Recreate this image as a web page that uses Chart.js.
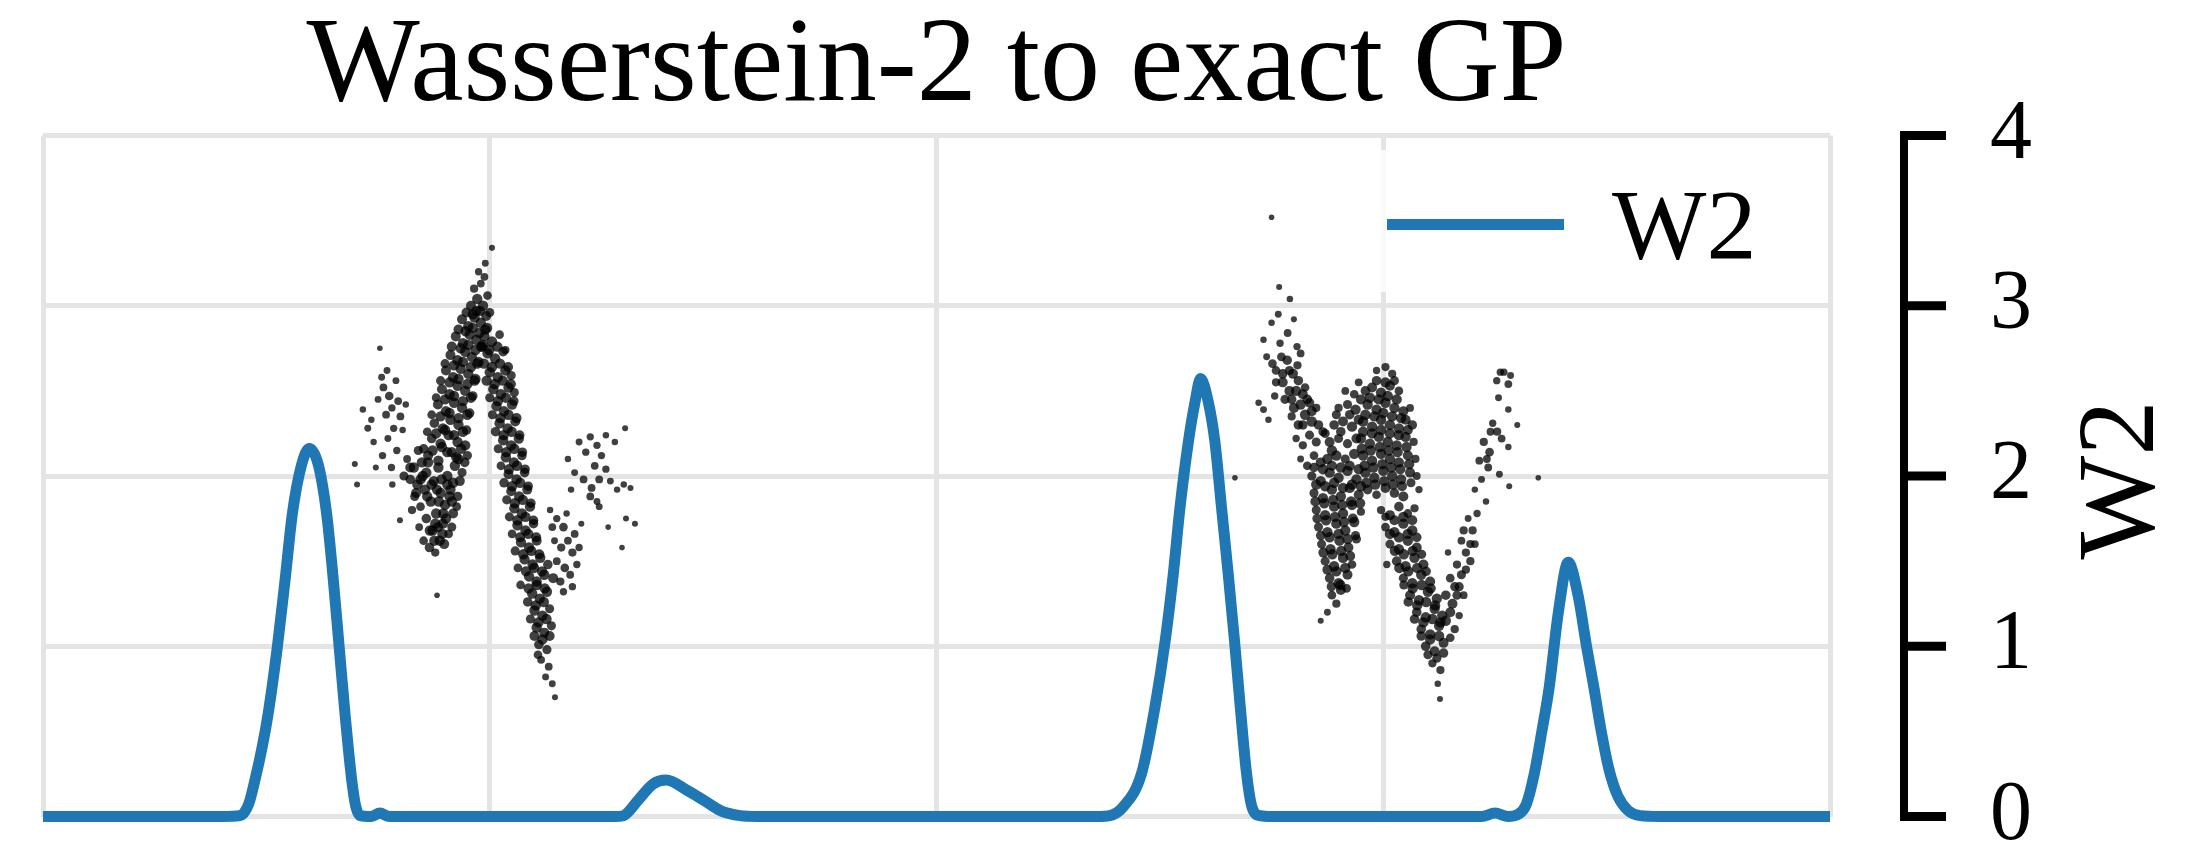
<!DOCTYPE html>
<html>
<head>
<meta charset="utf-8">
<script src="https://cdn.jsdelivr.net/npm/chart.js@4.4.1/dist/chart.umd.min.js"></script>
<style>
html,body{margin:0;padding:0;background:#fff;}
#wrap{width:2201px;height:855px;}
</style>
</head>
<body>
<div id="wrap"><canvas id="w2Chart" width="2201" height="855"></canvas></div>
<script>
/* DATA */

const titleText = "Wasserstein-2 to exact GP";
const yLabel = "W2";
const legendLabel = "W2";
const yTicks = [0, 1, 2, 3, 4];

// W2 curve
const w2X = [0, 0.40, 0.441, 0.46, 0.4745, 0.49, 0.504, 0.5245, 0.5417, 0.558, 0.579, 0.596, 0.616, 0.635, 0.650, 0.663, 0.676, 0.691, 0.700, 0.710, 0.735, 0.754, 0.775,
  1.28, 1.299, 1.3325, 1.365, 1.3945, 1.441, 1.478, 1.52, 1.56, 1.60,
  2.36, 2.388, 2.418, 2.459, 2.489, 2.512, 2.530, 2.545, 2.564, 2.579, 2.591, 2.608, 2.623, 2.638, 2.653, 2.667, 2.680, 2.694, 2.706, 2.724, 2.75,
  3.22, 3.25, 3.28, 3.30, 3.32, 3.338, 3.355, 3.371, 3.392, 3.414, 3.436, 3.455, 3.472, 3.488, 3.505, 3.525, 3.548, 3.575, 3.62, 4];
const w2Y = [0, 0, 0.005, 0.07, 0.215, 0.40, 0.604, 0.994, 1.385, 1.776, 2.068, 2.162, 2.068, 1.776, 1.385, 0.994, 0.604, 0.215, 0.06, 0.005, 0, 0.02, 0,
  0, 0.005, 0.097, 0.19, 0.214, 0.155, 0.097, 0.03, 0.005, 0,
  0, 0.005, 0.057, 0.253, 0.643, 1.034, 1.424, 1.814, 2.205, 2.439, 2.572, 2.439, 2.205, 1.814, 1.424, 1.034, 0.643, 0.253, 0.057, 0.005, 0,
  0, 0.02, 0, 0.01, 0.07, 0.25, 0.5, 0.75, 1.2, 1.493, 1.3, 1.0, 0.75, 0.5, 0.28, 0.12, 0.035, 0.005, 0, 0];

// samples, left cloud
const cloudA = [
[0.698,2.07],[0.703,1.95],[0.716,2.39],[0.754,2.75],[0.727,2.28],[0.740,2.20],[0.735,2.33],[0.750,2.45],[0.758,2.58],[0.762,2.52],[0.770,2.62],[0.775,2.47],[0.781,2.40],[0.768,2.36],[0.790,2.56],[0.795,2.44],[0.800,2.35],[0.772,2.22],[0.785,2.28],[0.760,2.12],[0.792,2.15],[0.805,2.27],[0.812,2.42],[0.745,2.05],[0.780,2.05],[0.799,1.74],[0.782,1.95],[0.808,2.00],
[0.815,2.10],[0.822,1.98],[0.830,2.05],[0.835,1.90],[0.840,2.15],[0.845,1.82],[0.850,2.00],[0.855,1.92],[0.858,1.75],[0.862,2.08],[0.868,1.85],[0.872,1.68],[0.875,1.97],[0.880,1.78],[0.885,2.05],[0.888,1.62],[0.890,1.90],[0.895,1.72],[0.900,1.83],[0.905,2.00],[0.908,1.66],[0.912,1.92],[0.918,1.78],[0.922,2.06],[0.928,1.88],[0.933,1.97],[0.938,2.02],[0.826,1.80],[0.842,1.70],[0.865,1.58],[0.882,1.30],[0.878,1.55],[0.852,1.62],[0.898,1.60],[0.915,1.70],
[0.822,2.05],[0.838,1.95],[0.848,2.08],[0.860,1.88],[0.870,1.95],[0.878,1.72],[0.886,1.85],[0.892,1.98],[0.902,1.75],[0.910,1.88],[0.918,1.96],[0.926,1.82],[0.930,2.10],[0.944,2.08],[0.950,2.12],[0.866,1.68],[0.876,1.62],[0.894,1.66],[0.858,2.02],[0.845,1.98],[0.832,1.88],[0.882,1.92],[0.905,1.95],[0.915,1.85],[0.896,1.78],[0.884,1.70],
[0.862,2.12],[0.885,2.09],[0.905,2.14],[0.925,2.11],[0.870,2.22],[0.890,2.19],[0.908,2.24],[0.928,2.20],[0.945,2.18],[0.876,2.31],[0.895,2.28],[0.912,2.33],[0.930,2.30],[0.948,2.27],[0.884,2.42],[0.902,2.38],[0.920,2.43],[0.938,2.40],[0.955,2.37],[0.893,2.51],[0.910,2.48],[0.928,2.53],[0.945,2.50],[0.962,2.47],[0.902,2.62],[0.918,2.58],[0.935,2.63],[0.952,2.60],[0.968,2.57],[0.912,2.71],[0.928,2.68],[0.945,2.73],[0.960,2.70],[0.975,2.67],[0.924,2.82],[0.940,2.78],[0.955,2.83],[0.970,2.80],[0.985,2.77],[0.938,2.92],[0.952,2.88],[0.966,2.93],[0.980,2.90],[0.994,2.87],
[0.852,2.16],[0.872,2.15],[0.893,2.17],[0.915,2.14],[0.936,2.16],[0.860,2.26],[0.880,2.25],[0.900,2.27],[0.920,2.24],[0.940,2.26],[0.870,2.36],[0.890,2.35],[0.910,2.37],[0.930,2.34],[0.950,2.36],[0.880,2.46],[0.900,2.45],[0.920,2.47],[0.940,2.44],[0.958,2.46],[0.890,2.56],[0.910,2.55],[0.930,2.57],[0.950,2.54],[0.966,2.56],[0.900,2.66],[0.920,2.65],[0.940,2.67],[0.958,2.64],[0.972,2.66],[0.915,2.76],[0.935,2.75],[0.952,2.77],[0.968,2.74],[0.982,2.76],[0.930,2.86],[0.946,2.85],[0.962,2.87],[0.977,2.84],[0.990,2.86],[0.948,2.96],[0.962,2.95],[0.978,2.97],[0.992,2.94],
[0.958,3.00],[0.972,3.04],[0.985,3.00],[0.965,3.10],[0.980,3.13],[0.995,3.06],[0.975,3.20],[0.988,3.17],[0.990,3.25],[1.005,3.34],[0.970,2.97],[1.000,2.96],
[0.988,2.82],[1.005,2.79],[1.022,2.83],[0.995,2.72],[1.012,2.69],[1.030,2.73],[1.000,2.61],[1.018,2.58],[1.035,2.62],[1.048,2.59],[1.008,2.51],[1.025,2.48],[1.042,2.52],[1.055,2.49],[1.015,2.41],[1.032,2.38],[1.050,2.42],[1.022,2.31],[1.040,2.28],[1.057,2.32],[1.030,2.21],[1.048,2.18],[1.065,2.22],[1.036,2.11],[1.054,2.08],[1.072,2.12],[1.042,2.01],[1.060,1.98],[1.078,2.02],[1.048,1.91],[1.066,1.88],[1.084,1.92],[1.055,1.81],[1.072,1.78],[1.090,1.82],[1.062,1.71],[1.080,1.68],[1.098,1.72],[1.070,1.61],[1.088,1.58],[1.105,1.62],[1.078,1.51],[1.096,1.48],[1.113,1.52],[1.088,1.41],[1.105,1.38],[1.122,1.42],[1.095,1.31],[1.112,1.28],[1.128,1.32],[1.100,1.21],[1.118,1.18],[1.134,1.22],[1.105,1.11],[1.122,1.08],[1.138,1.12],[1.110,1.01],[1.128,0.98],
[0.981,2.76],[0.999,2.74],[1.017,2.76],[1.035,2.74],[0.987,2.66],[1.005,2.64],[1.023,2.66],[1.041,2.64],[0.993,2.56],[1.011,2.54],[1.029,2.56],[1.047,2.54],[1.000,2.46],[1.018,2.44],[1.036,2.46],[1.054,2.44],[1.006,2.36],[1.024,2.34],[1.042,2.36],[1.060,2.34],[1.013,2.26],[1.031,2.24],[1.049,2.26],[1.067,2.24],[1.019,2.16],[1.037,2.14],[1.055,2.16],[1.073,2.14],[1.025,2.06],[1.043,2.04],[1.061,2.06],[1.079,2.04],[1.032,1.96],[1.050,1.94],[1.068,1.96],[1.086,1.94],[1.038,1.86],[1.056,1.84],[1.074,1.86],[1.092,1.84],[1.044,1.76],[1.062,1.74],[1.080,1.76],[1.098,1.74],[1.050,1.66],[1.068,1.64],[1.086,1.66],[1.104,1.64],[1.057,1.56],[1.075,1.54],[1.093,1.56],[1.111,1.54],[1.063,1.46],[1.081,1.44],[1.099,1.46],[1.117,1.44],[1.069,1.36],[1.087,1.34],[1.105,1.36],[1.123,1.34],[1.085,1.26],[1.103,1.24],[1.121,1.26],[1.091,1.16],[1.109,1.14],[1.127,1.16],[1.100,1.06],[1.118,1.04],[1.134,1.06],
[1.115,0.92],[1.132,0.88],[1.125,0.82],[1.140,0.78],[1.146,0.70],[1.108,0.95],
[1.135,1.80],[1.150,1.75],[1.165,1.70],[1.145,1.62],[1.160,1.58],[1.175,1.62],[1.185,1.55],[1.150,1.50],[1.168,1.46],[1.180,1.42],[1.195,1.48],[1.158,1.38],[1.140,1.70],[1.172,1.78],[1.190,1.66],[1.200,1.58],[1.130,1.48],[1.142,1.40],[1.165,1.32],[1.185,1.35],
[1.175,2.10],[1.190,2.02],[1.200,2.20],[1.215,2.14],[1.225,2.23],[1.240,2.18],[1.235,2.06],[1.250,2.12],[1.210,1.98],[1.228,1.93],[1.245,1.98],[1.260,2.04],[1.270,1.97],[1.285,1.92],[1.300,1.95],[1.315,1.93],[1.303,2.28],[1.280,2.20],[1.260,2.24],[1.325,1.72],[1.296,1.58],[1.305,1.75],[1.225,1.88],[1.245,1.82],[1.265,1.70],[1.182,1.92],[1.205,1.72],[1.240,1.85]
];

// samples, right cloud
const cloudB = [
[2.750,3.52],
[2.767,3.11],[2.791,3.04],[2.750,2.90],[2.800,2.92],[2.732,2.80],[2.769,2.78],[2.807,2.76],[2.739,2.70],[2.785,2.68],[2.815,2.72],[2.721,2.43],[2.732,2.39],[2.743,2.33],[2.757,2.47],[2.798,2.60],[2.760,2.62],[2.775,2.55],[2.790,2.50],[2.810,2.56],[2.772,2.70],[2.752,2.66],[2.786,2.84],[2.765,2.95],[2.780,2.45],[2.800,2.40],[2.820,2.48],[2.835,2.43],
[2.790,2.62],[2.805,2.50],[2.815,2.42],[2.795,2.45],[2.825,2.52],[2.808,2.65],[2.775,2.60],[2.760,2.55],[2.820,2.30],[2.840,2.38],[2.855,2.30],
[2.795,2.35],[2.810,2.30],[2.825,2.36],[2.840,2.32],[2.805,2.22],[2.820,2.18],[2.835,2.24],[2.850,2.20],[2.815,2.10],[2.830,2.06],[2.845,2.12],[2.860,2.08],[2.865,2.26],[2.850,2.40],[2.830,2.45],
[2.875,2.10],[2.895,2.12],[2.915,2.10],[2.935,2.13],[2.880,2.20],[2.900,2.22],[2.920,2.19],[2.940,2.22],[2.890,2.30],[2.910,2.32],[2.930,2.29],[2.945,2.33],[2.900,2.40],[2.920,2.42],[2.938,2.39],[2.915,2.50],[2.935,2.48],[2.885,2.15],[2.905,2.26],[2.925,2.36],[2.870,2.25],[2.895,2.36],[2.950,2.45],[2.945,2.55],[2.960,2.50],
[2.840,2.00],[2.860,1.97],[2.880,2.02],[2.900,1.99],[2.920,2.03],[2.940,1.98],[2.845,1.90],[2.865,1.87],[2.885,1.92],[2.905,1.88],[2.925,1.93],[2.945,1.89],[2.850,1.80],[2.870,1.77],[2.890,1.82],[2.910,1.78],[2.930,1.83],[2.950,1.79],[2.855,1.70],[2.875,1.67],[2.895,1.72],[2.915,1.68],[2.935,1.73],[2.862,1.60],[2.882,1.57],[2.902,1.62],[2.922,1.58],[2.940,1.63],[2.870,1.50],[2.890,1.47],[2.910,1.52],[2.930,1.48],[2.880,1.40],[2.900,1.37],[2.920,1.42],[2.885,1.30],[2.905,1.33],[2.895,1.25],
[2.845,2.05],[2.865,2.04],[2.885,2.06],[2.905,2.05],[2.925,2.06],[2.945,2.04],[2.850,1.95],[2.870,1.94],[2.890,1.96],[2.910,1.93],[2.930,1.95],[2.950,1.94],[2.848,1.85],[2.868,1.84],[2.888,1.86],[2.908,1.83],[2.928,1.85],[2.948,1.84],[2.852,1.75],[2.872,1.74],[2.892,1.76],[2.912,1.73],[2.932,1.75],[2.860,1.65],[2.880,1.64],[2.900,1.66],[2.920,1.63],[2.938,1.65],[2.866,1.55],[2.886,1.54],[2.906,1.56],[2.926,1.53],[2.875,1.45],[2.895,1.44],[2.915,1.46],[2.884,1.35],[2.904,1.36],[2.918,1.34],
[2.985,2.62],[3.005,2.64],[3.020,2.60],[2.975,2.52],[2.995,2.49],[3.015,2.53],[3.035,2.50],[2.965,2.42],[2.985,2.39],[3.005,2.43],[3.025,2.40],[3.045,2.38],[2.955,2.32],[2.975,2.29],[2.995,2.33],[3.015,2.30],[3.035,2.28],[3.050,2.33],[2.950,2.22],[2.970,2.19],[2.990,2.23],[3.010,2.20],[3.030,2.18],[3.050,2.23],[2.955,2.12],[2.975,2.09],[2.995,2.13],[3.015,2.10],[3.035,2.08],[3.055,2.12],[2.960,2.02],[2.980,1.99],[3.000,2.03],[3.020,2.00],[3.040,1.98],[3.060,2.02],[2.965,1.92],[2.985,1.89],[3.005,1.93],[3.025,1.90],[3.045,1.88],
[2.985,2.56],[3.005,2.55],[3.025,2.56],[2.970,2.46],[2.990,2.45],[3.010,2.47],[3.030,2.45],[2.960,2.36],[2.980,2.35],[3.000,2.37],[3.020,2.35],[3.040,2.34],[2.955,2.26],[2.975,2.25],[2.995,2.27],[3.015,2.25],[3.035,2.24],[3.055,2.27],[2.952,2.16],[2.972,2.15],[2.992,2.17],[3.012,2.15],[3.032,2.14],[3.052,2.17],[2.958,2.06],[2.978,2.05],[2.998,2.07],[3.018,2.05],[3.038,2.04],[3.058,2.07],[2.962,1.96],[2.982,1.95],[3.002,1.97],[3.022,1.95],[3.042,1.94],[3.062,1.96],
[3.065,2.30],[3.068,2.20],[3.072,2.10],[3.075,2.00],[3.080,1.92],[3.060,2.40],
[2.995,1.80],[3.015,1.77],[3.035,1.82],[3.055,1.78],[3.070,1.81],[3.005,1.70],[3.025,1.67],[3.045,1.72],[3.065,1.68],[3.015,1.60],[3.035,1.57],[3.055,1.62],[3.075,1.58],[3.030,1.50],[3.050,1.47],[3.070,1.52],[3.090,1.48],[3.045,1.40],[3.065,1.37],[3.085,1.42],[3.105,1.38],[3.060,1.30],[3.080,1.27],[3.100,1.32],[3.120,1.28],[3.075,1.20],[3.095,1.17],[3.115,1.22],[3.132,1.18],[3.085,1.10],[3.105,1.07],[3.125,1.12],[3.095,1.00],[3.115,0.97],[3.135,1.02],[3.110,0.90],[3.128,0.86],[3.122,0.78],[3.127,0.69],
[3.005,1.76],[3.025,1.74],[3.045,1.76],[3.065,1.74],[3.015,1.66],[3.035,1.64],[3.055,1.66],[3.075,1.64],[3.026,1.56],[3.046,1.54],[3.066,1.56],[3.086,1.54],[3.036,1.46],[3.056,1.44],[3.076,1.46],[3.096,1.44],[3.046,1.36],[3.066,1.34],[3.086,1.36],[3.106,1.34],[3.056,1.26],[3.076,1.24],[3.096,1.26],[3.116,1.24],[3.070,1.16],[3.090,1.14],[3.110,1.16],[3.128,1.14],[3.085,1.06],[3.105,1.04],[3.125,1.06],[3.100,0.95],[3.120,0.93],[3.135,0.96],
[3.140,1.15],[3.155,1.25],[3.170,1.35],[3.150,1.40],[3.180,1.30],[3.165,1.48],[3.185,1.55],[3.175,1.62],[3.195,1.50],[3.200,1.68],[3.160,1.10],[3.145,1.55],[3.190,1.75],[3.205,1.60],[3.210,1.78],
[3.150,1.20],[3.165,1.30],[3.175,1.42],[3.160,1.35],[3.185,1.45],[3.195,1.60],[3.180,1.68],[3.140,1.30],[3.150,1.05],[3.170,1.18],
[3.254,2.56],[3.262,2.61],[3.270,2.61],[3.285,2.59],[3.280,2.54],[3.258,2.46],[3.280,2.39],[3.245,2.31],[3.240,2.26],[3.255,2.26],[3.265,2.22],[3.280,2.17],[3.225,2.20],[3.215,2.09],[3.232,2.10],[3.238,2.14],[3.235,2.05],[3.260,2.01],[3.282,1.94],[3.347,1.99],[3.230,1.85],[3.205,1.92],[3.300,2.30],[3.220,1.98],
[2.668,1.99],[3.008,1.48],[2.860,1.15],[2.875,1.20]
];

/* CHART */

const serif = '"Liberation Serif", "DejaVu Serif", serif';
Chart.defaults.font.family = serif;
Chart.defaults.color = "#000";

const w2Data = w2X.map((x,i)=>({x, y:w2Y[i]}));
const samples = cloudA.concat(cloudB);
const sampleData = samples.map(p=>({x:p[0], y:p[1]}));

// dots in crowded spots get a bit bigger so the dense core reads dark like the original
const crowd = samples.map(p=>samples.filter(q=>Math.abs(q[0]-p[0])<0.03 && Math.abs(q[1]-p[1])<0.12).length - 1);
const dotRadius = ctx => {
  const n = crowd[ctx.dataIndex] || 0;
  return Math.min(2.8 + n * 0.22, 5.2);
};

// y spine offset to the right of the plot, with outward ticks, rotated label and inset legend
const decor = {
  id: "decor",
  afterDraw(chart){
    const ctx = chart.ctx, y = chart.scales.y, area = chart.chartArea;
    const sx = 1904;
    ctx.save();
    ctx.strokeStyle = "#000";
    ctx.lineWidth = 8;
    ctx.lineCap = "butt";
    ctx.beginPath();
    ctx.moveTo(sx, y.getPixelForValue(0) + 4.5);
    ctx.lineTo(sx, y.getPixelForValue(4) - 4.5);
    ctx.stroke();
    ctx.lineWidth = 9;
    yTicks.forEach(v=>{
      const py = y.getPixelForValue(v);
      ctx.beginPath();
      ctx.moveTo(sx - 4, py);
      ctx.lineTo(1946, py);
      ctx.stroke();
    });
    // y label
    ctx.fillStyle = "#000";
    ctx.font = "110px " + serif;
    ctx.textAlign = "center";
    ctx.textBaseline = "alphabetic";
    ctx.translate(2153, (area.top + area.bottom) / 2 + 4);
    ctx.rotate(-Math.PI / 2);
    ctx.fillText(yLabel, 0, 0);
    ctx.restore();

    // legend
    ctx.save();
    ctx.fillStyle = "rgba(255,255,255,0.8)";
    ctx.fillRect(1366, 150, 450, 142);
    ctx.strokeStyle = "#1f77b4";
    ctx.lineWidth = 11;
    ctx.beginPath();
    ctx.moveTo(1387, 224.5);
    ctx.lineTo(1564, 224.5);
    ctx.stroke();
    ctx.fillStyle = "#000";
    ctx.font = "100px " + serif;
    ctx.textAlign = "left";
    ctx.textBaseline = "alphabetic";
    ctx.fillText(legendLabel, 1612, 258);
    ctx.restore();
  }
};

new Chart(document.getElementById("w2Chart"), {
  type: "scatter",
  data: {
    datasets: [
      {
        label: legendLabel,
        data: w2Data,
        showLine: true,
        borderColor: "#1f77b4",
        borderWidth: 11,
        pointRadius: 0,
        cubicInterpolationMode: "monotone",
        clip: false,
        order: 2
      },
      {
        label: "samples",
        data: sampleData,
        backgroundColor: "rgba(0,0,0,0.75)",
        borderWidth: 0,
        pointRadius: dotRadius,
        clip: false,
        order: 1
      }
    ]
  },
  options: {
    responsive: false,
    animation: false,
    devicePixelRatio: 1,
    layout: { padding: { left: 43, right: 0, top: 0, bottom: 38.5 } },
    plugins: {
      legend: { display: false },
      tooltip: { enabled: false },
      title: {
        display: true,
        text: titleText,
        fullSize: false,
        color: "#000",
        font: { family: serif, size: 120, weight: "normal", lineHeight: 1 },
        padding: { top: 8, bottom: 7.5 }
      }
    },
    scales: {
      x: {
        type: "linear",
        min: 0, max: 4,
        ticks: { display: false, stepSize: 1 },
        grid: { color: "#e4e4e4", lineWidth: 5, drawTicks: false },
        border: { display: false },
        afterFit: s => { s.height = 0; }
      },
      y: {
        position: "right",
        min: 0, max: 4,
        ticks: { stepSize: 1, padding: 160, color: "#000", font: { family: serif, size: 84 } },
        grid: { color: "#e4e4e4", lineWidth: 5, drawTicks: false },
        border: { display: false },
        afterFit: s => { s.width = 371; s.paddingTop = 0; s.paddingBottom = 0; }
      }
    }
  },
  plugins: [decor]
});
</script>
</body>
</html>
